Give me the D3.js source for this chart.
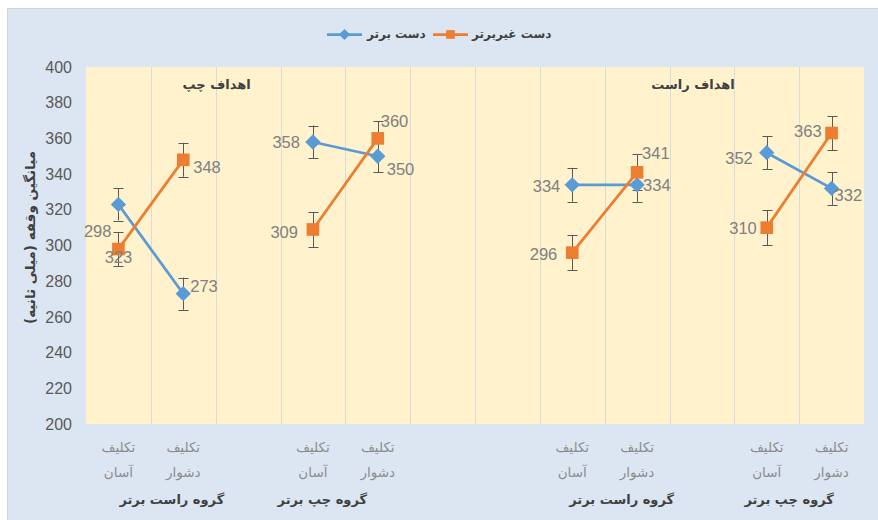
<!DOCTYPE html>
<html><head><meta charset="utf-8">
<script src="https://cdn.jsdelivr.net/npm/d3@7"></script>
<style>
html,body{margin:0;padding:0;background:#fff;}
svg{display:block;}
.num{font-family:"Liberation Sans Narrow","Arial Narrow","Liberation Sans",sans-serif;}
.fa{font-family:"DejaVu Sans","Noto Sans",sans-serif;}
</style></head>
<body>
<svg id="chart" width="878" height="520"></svg>
<script>
// ---------- data ----------
const categories = ["تکلیف آسان","تکلیف دشوار","","تکلیف آسان","تکلیف دشوار","","","تکلیف آسان","تکلیف دشوار","","تکلیف آسان","تکلیف دشوار"];
const seriesNames = ["دست برتر","دست غیربرتر"];
const dominantHand = [323,273,null,358,350,null,null,334,334,null,352,332];
const nonDominantHand = [298,348,null,309,360,null,null,296,341,null,310,363];
const dominantErr = [9,9,null,9.2,9,null,null,9.5,9.5,null,9.2,9.2];
const nonDominantErr = [9.5,9.5,null,9.8,9.5,null,null,10,10,null,9.8,9.5];
const yTicks = [200,220,240,260,280,300,320,340,360,380,400];
const groupLabels = ["گروه راست برتر","گروه چپ برتر","گروه راست برتر","گروه چپ برتر"];
const groupCats = [[0,1],[3,4],[7,8],[10,11]];
const panelLabels = ["اهداف چپ","اهداف راست"];
const yTitle = "میانگین وقفه (میلی ثانیه)";

// ---------- layout (not data) ----------
const groupDx = [21,-23,17,-10];
const panelPos = [[1,1],[9,-9]];
const domLabelPos = [["middle",0,53],["start",7,-8],null,["end",-13,0],["start",9,13],null,null,["end",-12,1],["start",6,0],null,["end",-14,5],["start",3,7]];
const nonLabelPos = [["end",-7,-18],["start",10,7],null,["end",-15,3],["start",3,-17],null,null,["end",-15,1],["start",5,-19],null,["end",-10,0],["end",-10,-2]];

const colors = ["#5b9bd5","#ed7d31"];
const svg = d3.select("#chart");

svg.append("rect").attr("x",7.5).attr("y",8.5).attr("width",900).attr("height",600)
  .attr("fill","#dce6f2").attr("stroke","#d4d4d4").attr("stroke-width",1);

const plot = {left:86, right:864, top:67, bottom:424};
const x = d3.scaleBand().domain(d3.range(categories.length)).range([plot.left,plot.right]).padding(0);
const y = d3.scaleLinear().domain([200,400]).range([plot.bottom,plot.top]);
const cx = i => x(i) + x.bandwidth()/2;

svg.append("rect").attr("x",plot.left).attr("y",plot.top)
  .attr("width",plot.right-plot.left).attr("height",plot.bottom-plot.top).attr("fill","#fff2cc");

svg.append("g").selectAll("line").data(d3.range(1,categories.length)).join("line")
  .attr("x1",i=>Math.round(x(i))+0.5).attr("x2",i=>Math.round(x(i))+0.5)
  .attr("y1",plot.top).attr("y2",plot.bottom)
  .attr("stroke","#dadada").attr("stroke-width",1);

const yAxis = d3.axisLeft(y).tickValues(yTicks).tickSize(0).tickPadding(14);
const ya = svg.append("g").attr("transform",`translate(${plot.left},0)`).call(yAxis);
ya.select(".domain").remove();
ya.selectAll("text").attr("class","num").attr("font-size",16).attr("fill","#595959");

svg.append("text").attr("class","fa").attr("direction","rtl")
  .attr("transform",`translate(30,${(plot.top+plot.bottom)/2 - 8}) rotate(-90)`)
  .attr("text-anchor","middle").attr("dominant-baseline","central")
  .attr("font-size",13.5).attr("font-weight","bold").attr("fill","#404040").text(yTitle);

const xl = svg.append("g");
categories.forEach((c,i)=>{
  if(!c) return;
  const parts = c.split(" ");
  xl.append("text").attr("class","fa").attr("direction","rtl").attr("x",cx(i)).attr("y",452)
    .attr("text-anchor","middle").attr("font-size",13.5).attr("fill","#8c8c8c").text(parts[0]);
  xl.append("text").attr("class","fa").attr("direction","rtl").attr("x",cx(i)).attr("y",477)
    .attr("text-anchor","middle").attr("font-size",13.5).attr("fill","#8c8c8c").text(parts[1]);
});
groupLabels.forEach((g,k)=>{
  const [a,b] = groupCats[k];
  svg.append("text").attr("class","fa").attr("direction","rtl")
    .attr("x",(cx(a)+cx(b))/2 + groupDx[k]).attr("y",504)
    .attr("text-anchor","middle").attr("font-size",13).attr("font-weight","bold")
    .attr("fill","#404040").text(g);
});
panelLabels.forEach((p,k)=>{
  const [ci,dx] = panelPos[k];
  const px = k===0 ? x(ci)+x.bandwidth() : cx(ci);
  svg.append("text").attr("class","fa").attr("direction","rtl")
    .attr("x",px+dx).attr("y",y(390)).attr("dominant-baseline","central")
    .attr("text-anchor","middle").attr("font-size",13).attr("font-weight","bold")
    .attr("fill","#404040").text(p);
});

const series = [
  {name:seriesNames[0], vals:dominantHand, err:dominantErr, lab:domLabelPos, color:colors[0], shape:d3.symbolDiamond2},
  {name:seriesNames[1], vals:nonDominantHand, err:nonDominantErr, lab:nonLabelPos, color:colors[1], shape:d3.symbolSquare}
];
const line = d3.line().defined(d=>d.v!=null).x(d=>cx(d.i)).y(d=>y(d.v));

series.forEach(s=>{
  const g = svg.append("g").attr("stroke","#595959").attr("stroke-width",1);
  s.vals.forEach((v,i)=>{
    if(v==null) return;
    const e = s.err[i], X = Math.round(cx(i))+0.5;
    g.append("line").attr("x1",X).attr("x2",X).attr("y1",y(v+e)).attr("y2",y(v-e));
    g.append("line").attr("x1",X-5).attr("x2",X+5).attr("y1",Math.round(y(v+e))+0.5).attr("y2",Math.round(y(v+e))+0.5);
    g.append("line").attr("x1",X-5).attr("x2",X+5).attr("y1",Math.round(y(v-e))+0.5).attr("y2",Math.round(y(v-e))+0.5);
  });
});
series.forEach(s=>{
  const pts = s.vals.map((v,i)=>({v,i}));
  svg.append("path").datum(pts).attr("d",line).attr("fill","none")
    .attr("stroke",s.color).attr("stroke-width",2.75).attr("stroke-linejoin","round");
});
series.forEach(s=>{
  const pts = s.vals.map((v,i)=>({v,i})).filter(d=>d.v!=null);
  const sz = s.shape===d3.symbolSquare ? 160 : 150;
  svg.append("g").selectAll("path").data(pts).join("path")
    .attr("transform",d=>`translate(${cx(d.i)},${y(d.v)})`)
    .attr("d",d3.symbol(s.shape,sz)).attr("fill",s.color);
});
series.forEach(s=>{
  s.vals.forEach((v,i)=>{
    if(v==null) return;
    const [anc,dx,dy] = s.lab[i];
    svg.append("text").attr("class","num").attr("x",cx(i)+dx).attr("y",y(v)+dy)
      .attr("text-anchor",anc).attr("dominant-baseline","central")
      .attr("font-size",16.5).attr("fill","#808080").text(v);
  });
});

const legendItems = [
  {x:327, tx:367, s:series[0]},
  {x:433, tx:472, s:series[1]}
];
const lg = svg.append("g");
legendItems.forEach(it=>{
  lg.append("line").attr("x1",it.x).attr("x2",it.x+35).attr("y1",34.5).attr("y2",34.5)
    .attr("stroke",it.s.color).attr("stroke-width",2.75);
  lg.append("path").attr("transform",`translate(${it.x+17.5},34.5)`)
    .attr("d",d3.symbol(it.s.shape, it.s.shape===d3.symbolSquare?75:80)).attr("fill",it.s.color);
  lg.append("text").attr("class","fa").attr("direction","rtl").attr("x",it.tx).attr("y",34)
    .attr("text-anchor","end").attr("dominant-baseline","central")
    .attr("font-size",12).attr("font-weight","bold").attr("fill","#404040").text(it.s.name);
});
</script>
</body></html>
